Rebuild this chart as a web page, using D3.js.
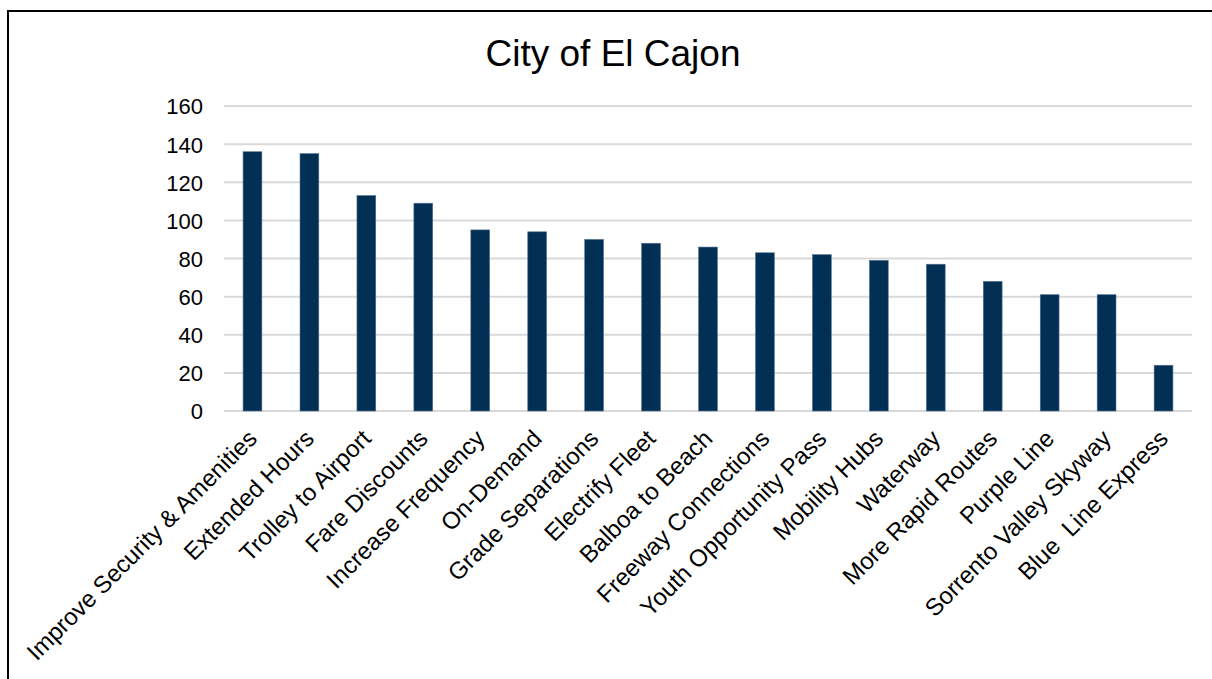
<!DOCTYPE html>
<html>
<head>
<meta charset="utf-8">
<style>
  body { margin: 0; background: #fff; }
  text { font-family: "Liberation Sans", Arial, sans-serif; fill: #000; }
</style>
</head>
<body>
<svg id="chart"></svg>
<script src="https://cdnjs.cloudflare.com/ajax/libs/d3/7.8.5/d3.min.js"></script>
<script>
  // chart data
  var categories = ["Improve Security & Amenities", "Extended Hours", "Trolley to Airport", "Fare Discounts",
                    "Increase Frequency", "On-Demand", "Grade Separations", "Electrify Fleet", "Balboa to Beach",
                    "Freeway Connections", "Youth Opportunity Pass", "Mobility Hubs", "Waterway",
                    "More Rapid Routes", "Purple Line", "Sorrento Valley Skyway", "Blue  Line Express"];
  var votes      = [136, 135, 113, 109, 95, 94, 90, 88, 86, 83, 82, 79, 77, 68, 61, 61, 24];
  var yTicks     = [0, 20, 40, 60, 80, 100, 120, 140, 160];
  var title      = "City of El Cajon";

  var width      = 1212,
      height     = 679,
      plotLeft   = 224,
      plotRight  = 1192,
      plotTop    = 106,
      plotBottom = 411,
      barColor   = "#022f54";

  var svg = d3.select("#chart")
              .attr("width", width)
              .attr("height", height);

  // outer frame (runs off the right and bottom edge)
  svg.append("rect")
     .attr("x", 8).attr("y", 11)
     .attr("width", width + 20).attr("height", height + 20)
     .attr("fill", "none")
     .attr("stroke", "#000")
     .attr("stroke-width", 2);

  var x = d3.scaleBand()
            .domain(categories)
            .range([plotLeft, plotRight])
            .paddingInner(0.67)
            .paddingOuter(0.335);

  var y = d3.scaleLinear()
            .domain([0, 160])
            .range([plotBottom, plotTop]);

  // gridlines
  svg.append("g")
     .selectAll("line")
     .data(yTicks)
     .enter().append("line")
       .attr("x1", plotLeft).attr("x2", plotRight)
       .attr("y1", function(d) { return y(d); })
       .attr("y2", function(d) { return y(d); })
       .attr("stroke", "#d9d9d9")
       .attr("stroke-width", 2);

  // y labels
  var yAxis = svg.append("g")
     .attr("transform", "translate(" + (plotLeft - 21) + ",0)")
     .call(d3.axisLeft(y).tickValues(yTicks).tickSize(0).tickPadding(0));
  yAxis.select(".domain").remove();
  yAxis.selectAll("text")
       .attr("dy", "0.36em")
       .attr("fill", "#000")
       .style("font-size", "22px")
       .style("font-family", "'Liberation Sans', Arial, sans-serif");

  // bars
  svg.append("g")
     .selectAll("rect")
     .data(votes)
     .enter().append("rect")
       .attr("x", function(d, i) { return x(categories[i]); })
       .attr("y", function(d) { return y(d); })
       .attr("width", x.bandwidth())
       .attr("height", function(d) { return y(0) - y(d); })
       .attr("fill", barColor)
       .attr("stroke", "#4f6f8f")
       .attr("stroke-width", 0.6);

  // category labels, rotated 45 degrees
  var xAxis = svg.append("g")
     .attr("transform", "translate(0," + plotBottom + ")")
     .call(d3.axisBottom(x).tickSize(0).tickPadding(0));
  xAxis.select(".domain").remove();
  xAxis.selectAll("text")
       .attr("text-anchor", "end")
       .attr("dy", null)
       .attr("y", 0)
       .attr("fill", "#000")
       .attr("transform", "translate(6,29) rotate(-45)")
       .style("white-space", "pre")
       .style("font-size", "24px")
       .style("font-family", "'Liberation Sans', Arial, sans-serif");

  // title
  svg.append("text")
     .attr("x", 613)
     .attr("y", 66)
     .attr("text-anchor", "middle")
     .style("font-size", "37px")
     .text(title);
</script>
</body>
</html>
